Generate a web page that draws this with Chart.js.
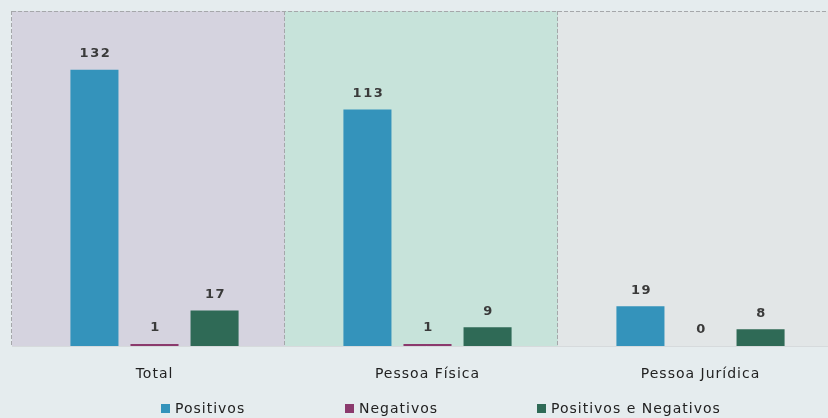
<!DOCTYPE html>
<html><head><meta charset="utf-8">
<script src="https://cdn.jsdelivr.net/npm/chart.js@4/dist/chart.umd.min.js"></script>
<style>
html,body{margin:0;padding:0;background:#e5ecee;overflow:hidden;}
#wrap{position:relative;width:828px;height:418px;overflow:hidden;}
#legend{position:absolute;top:400px;left:0;width:828px;height:20px;font-family:"DejaVu Sans",sans-serif;font-size:14px;letter-spacing:1px;color:#222;}
.li{position:absolute;top:0;display:flex;align-items:center;white-space:nowrap;}
.sw{width:9px;height:9px;margin-right:5px;display:inline-block;}
</style></head>
<body><div id="wrap"><canvas id="c" width="840" height="418"></canvas><div id="legend"></div></div>
<script>
const categories = ["Total", "Pessoa Física", "Pessoa Jurídica"];
const seriesNames = ["Positivos", "Negativos", "Positivos e Negativos"];
const positivos = [132, 113, 19];
const negativos = [1, 1, 0];
const positivosNegativos = [17, 9, 8];
const yMax = 160;

const seriesColors = ["#3493bb", "#8b3a6d", "#2f6a56"];
const regionColors = ["#d5d3df", "#c7e3da", "#e2e6e7"];
const FONT = '"DejaVu Sans",sans-serif';
const regionShift = -6;

const bgPlugin = {
  id: 'bg',
  beforeDraw(chart) {
    try { chart.ctx.letterSpacing = '1px'; } catch(e) {}
  },
  beforeDatasetsDraw(chart) {
    const {ctx, chartArea: a, scales: {x}} = chart;
    const w = x.getPixelForValue(1) - x.getPixelForValue(0);
    const left = x.getPixelForValue(0) - w/2 + regionShift;
    ctx.save();
    categories.forEach((c, i) => {
      const cx = x.getPixelForValue(i) + regionShift;
      ctx.fillStyle = regionColors[i];
      ctx.fillRect(cx - w/2, a.top, w + (i === categories.length - 1 ? 20 : 0), a.bottom - a.top);
    });
    ctx.strokeStyle = '#a5a7aa';
    ctx.lineWidth = 1;
    ctx.setLineDash([4, 2]);
    ctx.beginPath();
    ctx.moveTo(left, a.top + 0.5); ctx.lineTo(a.right + 20, a.top + 0.5);
    for (let i = 0; i < categories.length; i++) {
      const bx = Math.round(x.getPixelForValue(i) - w/2 + regionShift) - 0.5;
      ctx.moveTo(bx, a.top); ctx.lineTo(bx, a.bottom);
    }
    ctx.stroke();
    ctx.setLineDash([]);
    ctx.strokeStyle = '#d6dadc';
    ctx.beginPath();
    ctx.moveTo(left, a.bottom + 0.5); ctx.lineTo(a.right + 20, a.bottom + 0.5);
    ctx.stroke();
    ctx.restore();
  }
};

const labelPlugin = {
  id: 'vals',
  afterDatasetsDraw(chart) {
    const {ctx} = chart;
    ctx.save();
    ctx.font = 'bold 13px ' + FONT;
    ctx.fillStyle = '#3a3a3a';
    ctx.textAlign = 'center';
    ctx.textBaseline = 'middle';
    try { ctx.letterSpacing = '1.5px'; } catch(e) {}
    chart.data.datasets.forEach((ds, di) => {
      chart.getDatasetMeta(di).data.forEach((bar, i) => {
        ctx.fillText(String(ds.data[i]), bar.x + 1, bar.y - 16);
      });
    });
    ctx.restore();
  }
};

new Chart(document.getElementById('c'), {
  type: 'bar',
  data: {
    labels: categories,
    datasets: [
      {label: seriesNames[0], data: positivos, backgroundColor: seriesColors[0]},
      {label: seriesNames[1], data: negativos, backgroundColor: seriesColors[1]},
      {label: seriesNames[2], data: positivosNegativos, backgroundColor: seriesColors[2]}
    ]
  },
  options: {
    responsive: false,
    animation: false,
    devicePixelRatio: 1,
    layout: {padding: {top: 11, left: 18, right: 3, bottom: 32}},
    datasets: {bar: {categoryPercentage: 0.66, barPercentage: 0.8}},
    plugins: {legend: {display: false}, tooltip: {enabled: false}},
    scales: {
      x: {
        grid: {display: false, drawTicks: false},
        border: {display: false},
        ticks: {padding: 20, color: '#222', font: {family: FONT, size: 14}},
        afterFit(s) { s.height = 40; }
      },
      y: {display: false, min: 0, max: yMax}
    }
  },
  plugins: [bgPlugin, labelPlugin]
});

const lg = document.getElementById('legend');
const legendLeft = [161, 345, 537];
seriesNames.forEach((n, i) => {
  const d = document.createElement('div');
  d.className = 'li';
  d.style.left = legendLeft[i] + 'px';
  d.innerHTML = '<span class="sw" style="background:' + seriesColors[i] + '"></span><span></span>';
  d.lastChild.textContent = n;
  lg.appendChild(d);
});
</script></body></html>
